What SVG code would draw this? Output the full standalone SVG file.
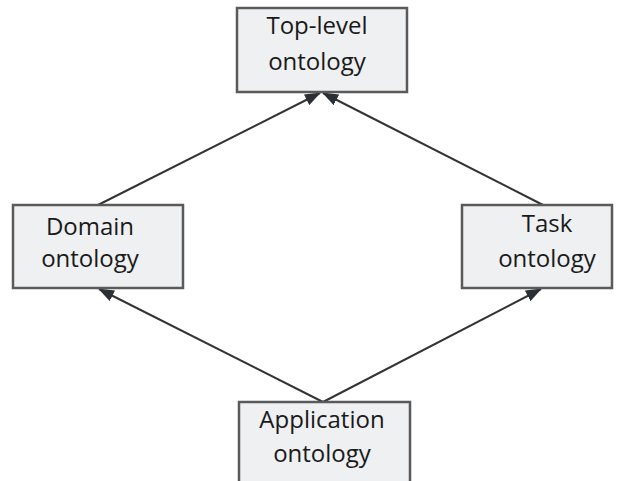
<svg xmlns="http://www.w3.org/2000/svg" width="619" height="481" viewBox="0 0 619 481">
  <style>
    .box { fill: #eef0f2; stroke: #5a5a5a; stroke-width: 2.5; }
    .lbl { font-family: "Open Sans", "Liberation Sans", sans-serif; font-size: 24px; fill: #1a1a1a; text-anchor: middle; }
    .edge { stroke: #333; stroke-width: 2; fill: none; }
  </style>
  <defs>
    <marker id="arrowhead" viewBox="0 0 16 12" refX="15" refY="6" markerWidth="16" markerHeight="12" markerUnits="userSpaceOnUse" orient="auto">
      <path d="M0,0 L16,6 L0,12 z" fill="#2b2f36"/>
    </marker>
  </defs>
  <rect width="619" height="481" fill="#ffffff"/>

  <g id="connectors">
    <line class="edge" x1="98" y1="205" x2="320" y2="93" marker-end="url(#arrowhead)"/>
    <line class="edge" x1="543" y1="205" x2="323" y2="93" marker-end="url(#arrowhead)"/>
    <line class="edge" x1="323" y1="402" x2="99" y2="289" marker-end="url(#arrowhead)"/>
    <line class="edge" x1="323" y1="402" x2="541" y2="289" marker-end="url(#arrowhead)"/>
  </g>

  <g id="top-level">
    <rect class="box" x="237" y="8" width="170" height="84"/>
    <text class="lbl" x="317" y="34">Top-level</text>
    <text class="lbl" x="317" y="70">ontology</text>
  </g>

  <g id="domain">
    <rect class="box" x="13" y="205" width="170" height="83"/>
    <text class="lbl" x="90" y="235">Domain</text>
    <text class="lbl" x="90" y="267">ontology</text>
  </g>

  <g id="task">
    <rect class="box" x="462" y="205" width="150" height="83"/>
    <text class="lbl" x="547" y="232">Task</text>
    <text class="lbl" x="547" y="267">ontology</text>
  </g>

  <g id="application">
    <rect class="box" x="239" y="402" width="171" height="90"/>
    <text class="lbl" x="322" y="428">Application</text>
    <text class="lbl" x="322" y="462">ontology</text>
  </g>
</svg>
